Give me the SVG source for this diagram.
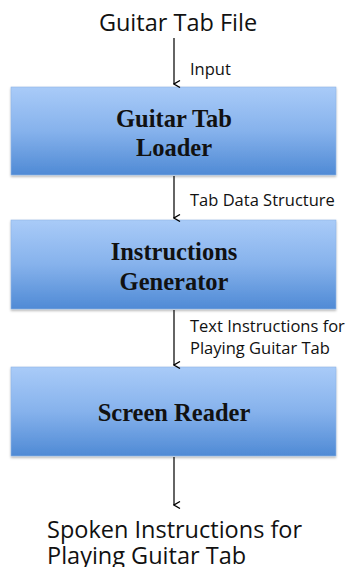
<svg xmlns="http://www.w3.org/2000/svg" width="355" height="567" viewBox="0 0 355 567">
<defs>
<linearGradient id="g" x1="0" y1="0" x2="0" y2="1">
<stop offset="0" stop-color="#a9cbf8"/>
<stop offset="0.5" stop-color="#86b2ec"/>
<stop offset="1" stop-color="#4f8ad5"/>
</linearGradient>
<filter id="sh" x="-5%" y="-5%" width="110%" height="115%">
<feDropShadow dx="0" dy="1.5" stdDeviation="1.2" flood-color="#000" flood-opacity="0.3"/>
</filter>
<marker id="ah" markerWidth="8" markerHeight="8" refX="4" refY="7" orient="auto-start-reverse" markerUnits="userSpaceOnUse" viewBox="0 0 8 8">
<path d="M0.5,1 L4,7 L7.5,1" fill="none" stroke="#000" stroke-width="1.3"/>
</marker>
</defs>
<style>
.box{fill:url(#g);stroke:#8fb4e4;stroke-width:0.6;filter:url(#sh)}
.bt{font-family:"Liberation Serif","Times New Roman",serif;font-weight:bold;font-size:24.5px;fill:#111;text-anchor:middle}
.io{font-family:"Open Sans","Lato",sans-serif;font-size:23.5px;fill:#111}
.lb{font-family:"Open Sans","Lato",sans-serif;font-size:16.5px;fill:#111}
.c{stroke:#111;stroke-width:1.3;fill:none;marker-end:url(#ah)}
</style>
<g id="input-text"><text class="io" x="178" y="31" text-anchor="middle">Guitar Tab File</text></g>
<g id="loader">
<rect class="box" x="11" y="87" width="325" height="88"/>
<text class="bt" x="174" y="127">Guitar Tab</text>
<text class="bt" x="174" y="156">Loader</text>
</g>
<g id="generator">
<rect class="box" x="11" y="220" width="325" height="89"/>
<text class="bt" x="174" y="260">Instructions</text>
<text class="bt" x="174" y="290">Generator</text>
</g>
<g id="reader">
<rect class="box" x="11" y="367" width="325" height="89"/>
<text class="bt" x="174" y="421">Screen Reader</text>
</g>
<g id="output-text">
<text class="io" x="47" y="538">Spoken Instructions for</text>
<text class="io" x="47" y="564">Playing Guitar Tab</text>
</g>
<g id="connectors">
<line class="c" x1="174" y1="38" x2="174" y2="84"/>
<line class="c" x1="174" y1="176" x2="174" y2="218"/>
<line class="c" x1="174" y1="310" x2="174" y2="365"/>
<line class="c" x1="174" y1="457" x2="174" y2="505"/>
<text class="lb" x="190" y="75">Input</text>
<text class="lb" x="190" y="206">Tab Data Structure</text>
<text class="lb" x="190" y="332">Text Instructions for</text>
<text class="lb" x="190" y="354">Playing Guitar Tab</text>
</g>
</svg>
